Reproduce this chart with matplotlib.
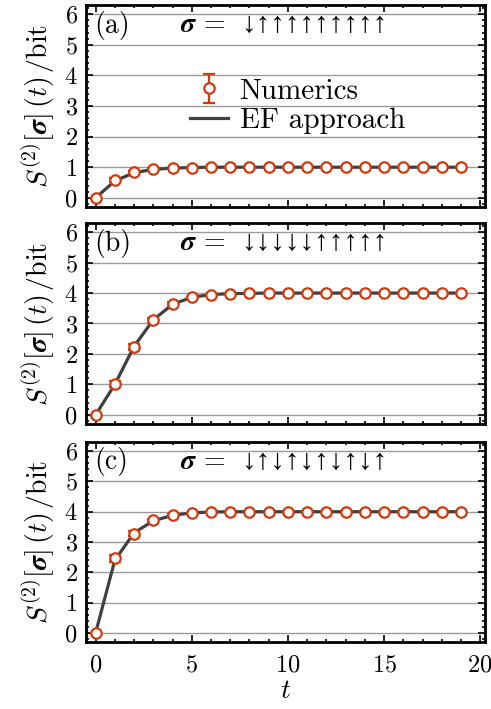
import matplotlib
matplotlib.use("Agg")
import matplotlib.pyplot as plt
from matplotlib.ticker import MultipleLocator

plt.rcParams['font.family'] = ['cmr10', 'DejaVu Sans']
plt.rcParams['mathtext.fontset'] = 'cm'
plt.rcParams['axes.formatter.use_mathtext'] = True

# datos
t = list(range(20))

num_a = [0, 0.58, 0.83, 0.95, 0.98, 0.99] + [1.0] * 14
err_a = [0, 0.07, 0.04, 0.02, 0.01, 0] + [0] * 14
ef_a = [0, 0.55, 0.82, 0.93, 0.97, 0.99] + [1.0] * 14

num_b = [0, 1.01, 2.23, 3.10, 3.65, 3.86, 3.95, 3.98, 3.99] + [4.0] * 11
err_b = [0, 0.10, 0.10, 0.08, 0.05, 0.02, 0.01, 0, 0] + [0] * 11
ef_b = [0, 1.0, 2.25, 3.12, 3.63, 3.86, 3.95, 3.98, 3.99] + [4.0] * 11

num_c = [0, 2.46, 3.28, 3.72, 3.89, 3.96, 3.99] + [4.0] * 13
err_c = [0, 0.12, 0.08, 0.05, 0.03, 0.01, 0] + [0] * 13
ef_c = [0, 2.40, 3.30, 3.70, 3.88, 3.96, 3.99] + [4.0] * 13

paneles = ['(a)', '(b)', '(c)']
sigmas = ['↓↑↑↑↑↑↑↑↑↑', '↓↓↓↓↓↑↑↑↑↑', '↓↑↓↑↓↑↓↑↓↑']

numericos = [num_a, num_b, num_c]
errores = [err_a, err_b, err_c]
ef = [ef_a, ef_b, ef_c]

rojo = '#d03a0c'
gris = '#404040'

fig = plt.figure(figsize=(4.91, 7.09), dpi=100)
H = 709.0
W = 491.0
cajas = [(5, 207), (223, 424), (442, 642)]

for i in range(3):
	top, bot = cajas[i]
	ax = fig.add_axes([86 / W, 1 - bot / H, (485 - 86) / W, (bot - top) / H])
	for y in range(7):
		ax.axhline(y, color='#9a9a9a', lw=1.0, zorder=0)
	ax.plot(t, ef[i], color=gris, lw=2.3, zorder=2, label='EF approach')
	ax.errorbar(t, numericos[i], yerr=errores[i], fmt='o', ms=7.5, mfc='white',
		mec=rojo, mew=1.6, ecolor=rojo, elinewidth=1.6, capsize=4, capthick=1.6,
		zorder=3, label='Numerics')
	ax.set_xlim(-0.5, 20.25)
	ax.set_ylim(-0.3, 6.3)
	ax.xaxis.set_major_locator(MultipleLocator(5))
	ax.xaxis.set_minor_locator(MultipleLocator(1))
	ax.yaxis.set_major_locator(MultipleLocator(1))
	ax.yaxis.set_minor_locator(MultipleLocator(0.2))
	ax.tick_params(which='both', direction='in', top=True, right=True, labelsize=17.5, width=1.2)
	ax.tick_params(which='major', length=5)
	ax.tick_params(which='minor', length=2.5)
	ax.tick_params(axis='x', pad=9)
	ax.tick_params(axis='y', pad=6)
	for s in ax.spines.values():
		s.set_linewidth(2)
	ax.set_ylabel(r'$S^{(2)}[\boldsymbol{\sigma}]\,(t)\,/\mathrm{bit}$', fontsize=20, labelpad=5)
	ax.text(0.02, 0.9, paneles[i], transform=ax.transAxes, fontsize=20, va='center')
	ax.text(0.235, 0.9, r'$\boldsymbol{\sigma}$ = ', transform=ax.transAxes, fontsize=20, va='center')
	ax.text(0.39, 0.905, sigmas[i], transform=ax.transAxes, fontsize=21, va='center',
		family=['Liberation Sans', 'DejaVu Sans'])
	if i < 2:
		ax.set_xticklabels([])
	else:
		ax.set_xlabel(r'$t$', fontsize=20, labelpad=1)
	if i == 0:
		h, l = ax.get_legend_handles_labels()
		ax.legend(h[::-1], l[::-1], loc='center', bbox_to_anchor=(0.53, 0.5), frameon=False,
			fontsize=21, handlelength=1.3, handletextpad=0.4, labelspacing=0.1)

fig.savefig('out.png', dpi=100)
